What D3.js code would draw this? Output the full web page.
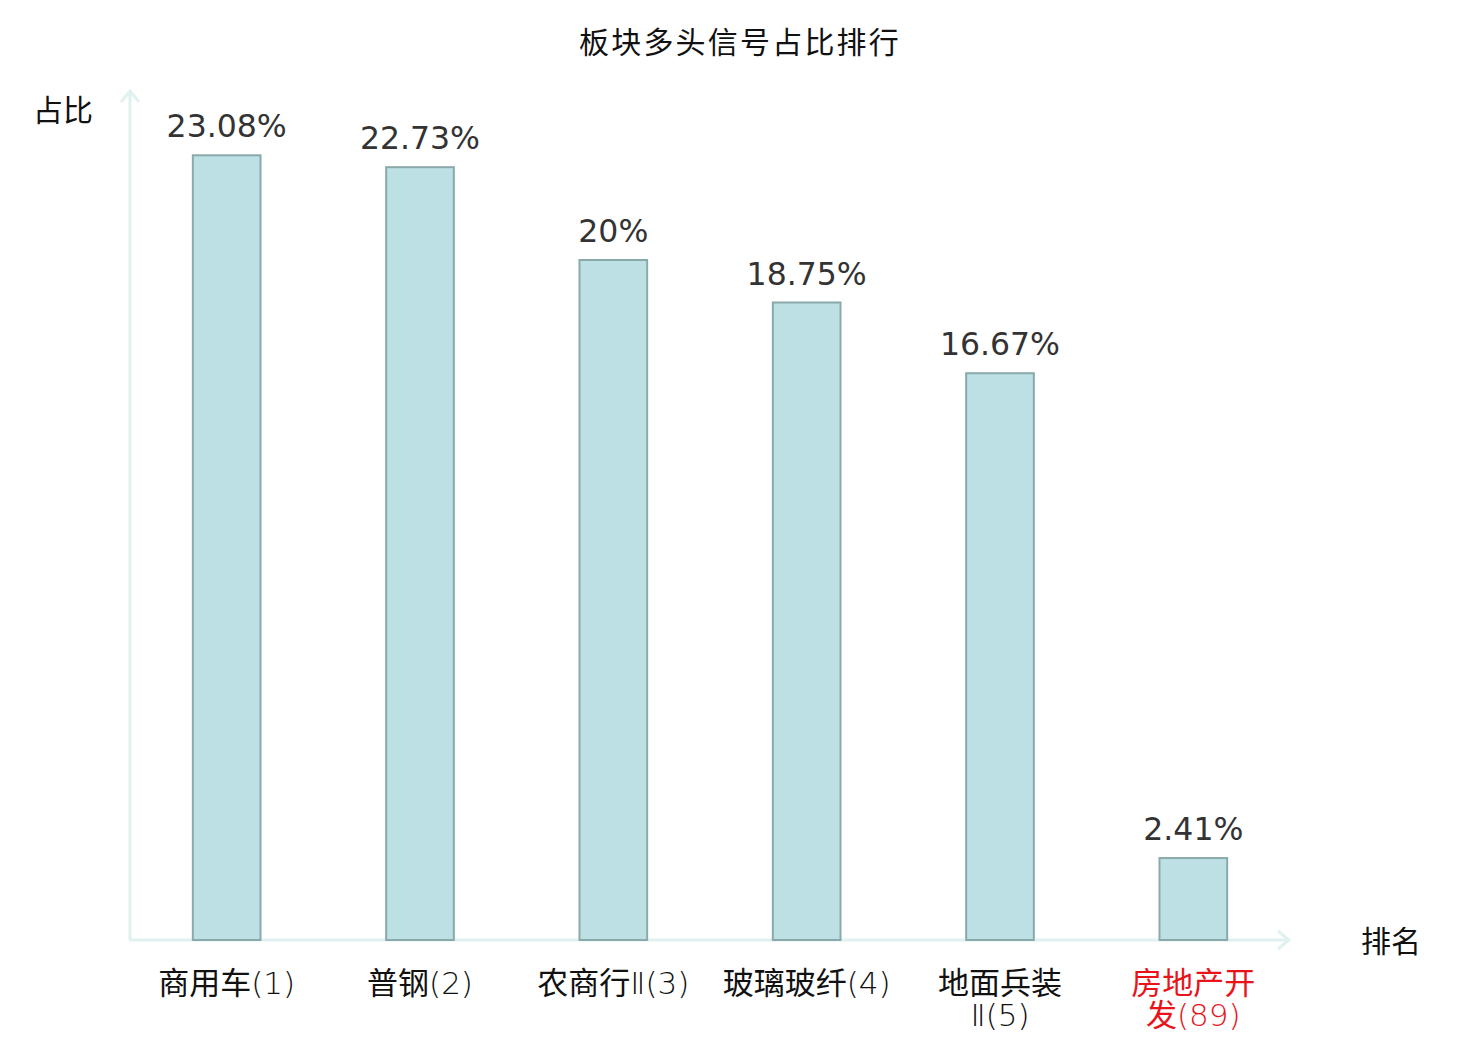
<!DOCTYPE html>
<html>
<head>
<meta charset="utf-8">
<script src="https://cdn.jsdelivr.net/npm/d3@7"></script>
<style>
	body { margin: 0; background: #fff; }
	text { font-family: "DejaVu Sans", "Noto Sans CJK SC", sans-serif; }
</style>
</head>
<body>
<div id="chart"></div>
<script>
var categories = ["商用车(1)", "普钢(2)", "农商行Ⅱ(3)", "玻璃玻纤(4)", "地面兵装Ⅱ(5)", "房地产开发(89)"];
var tickLines = [["商用车(1)"], ["普钢(2)"], ["农商行Ⅱ(3)"], ["玻璃玻纤(4)"], ["地面兵装", "Ⅱ(5)"], ["房地产开", "发(89)"]];
var values = [23.08, 22.73, 20, 18.75, 16.67, 2.41];
var labels = ["23.08%", "22.73%", "20%", "18.75%", "16.67%", "2.41%"];
var highlight = [false, false, false, false, false, true];

var width = 1480, height = 1040;
var x0 = 130, x1 = 1290, yBase = 940, yTop = 90;
var axisColor = "#dff2ef";

var svg = d3.select("#chart").append("svg")
	.attr("width", width)
	.attr("height", height);

var x = d3.scaleBand()
	.domain(categories)
	.range([x0, x1])
	.paddingInner(0.65)
	.paddingOuter(0.325);

var y = d3.scaleLinear()
	.domain([0, 25])
	.range([yBase, yTop]);

// title
svg.append("text")
	.attr("x", 740)
	.attr("y", 53)
	.attr("text-anchor", "middle")
	.style("font-family", "'Noto Sans CJK SC', sans-serif")
	.style("font-size", "30px")
	.style("letter-spacing", "2.2px")
	.style("fill", "#111")
	.text("板块多头信号占比排行");

// axes
svg.append("line")
	.attr("x1", x0).attr("y1", yBase)
	.attr("x2", x0).attr("y2", yTop + 2)
	.style("stroke", axisColor).style("stroke-width", 3);
svg.append("path")
	.attr("d", "M" + (x0 - 9) + "," + (yTop + 12) + "L" + x0 + "," + (yTop + 1) + "L" + (x0 + 9) + "," + (yTop + 12))
	.style("fill", "none").style("stroke", axisColor).style("stroke-width", 3);

svg.append("line")
	.attr("x1", x0 - 1).attr("y1", yBase)
	.attr("x2", x1 - 2).attr("y2", yBase)
	.style("stroke", axisColor).style("stroke-width", 3);
svg.append("path")
	.attr("d", "M" + (x1 - 12) + "," + (yBase - 9) + "L" + (x1 - 1) + "," + yBase + "L" + (x1 - 12) + "," + (yBase + 9))
	.style("fill", "none").style("stroke", axisColor).style("stroke-width", 3);

// axis names
svg.append("text")
	.attr("x", 63).attr("y", 121)
	.attr("text-anchor", "middle")
	.style("font-family", "'Noto Sans CJK SC', sans-serif")
	.style("font-size", "30px").style("fill", "#111")
	.text("占比");
svg.append("text")
	.attr("x", 1391).attr("y", 952)
	.attr("text-anchor", "middle")
	.style("font-family", "'Noto Sans CJK SC', sans-serif")
	.style("font-size", "30px").style("fill", "#111")
	.text("排名");

// bars
svg.selectAll(".bar")
	.data(values)
	.enter()
	.append("rect")
	.attr("class", "bar")
	.attr("x", function(d, i) { return x(categories[i]); })
	.attr("y", function(d) { return y(d); })
	.attr("width", x.bandwidth())
	.attr("height", function(d) { return yBase - y(d); })
	.style("fill", "#bce0e3")
	.style("stroke", "#8aa9aa")
	.style("stroke-width", 2);

// value labels
svg.selectAll(".val")
	.data(values)
	.enter()
	.append("text")
	.attr("class", "val")
	.attr("x", function(d, i) { return x(categories[i]) + x.bandwidth() / 2; })
	.attr("y", function(d) { return y(d) - 18; })
	.attr("text-anchor", "middle")
	.style("font-size", "31.5px")
	.style("fill", "#333")
	.text(function(d, i) { return labels[i]; });

// category labels: one text per line, CJK runs regular, latin runs thin
var lineData = [];
categories.forEach(function(c, i) {
	tickLines[i].forEach(function(t, j) {
		lineData.push({ c: c, i: i, j: j, t: t });
	});
});

var lines = svg.selectAll(".tick")
	.data(lineData)
	.enter()
	.append("text")
	.attr("class", "tick")
	.attr("x", function(d) { return x(d.c) + x.bandwidth() / 2; })
	.attr("y", function(d) { return 994 + d.j * 32; })
	.attr("text-anchor", "middle")
	.style("font-size", "31px")
	.style("fill", function(d) { return highlight[d.i] ? "#e8141a" : "#111"; });

lines.selectAll("tspan")
	.data(function(d) { return d.t.split(/([\u4e00-\u9fff]+)/).filter(function(s) { return s.length; }); })
	.enter()
	.append("tspan")
	.style("font-family", function(s) { return /[\u4e00-\u9fff]/.test(s) ? "'Noto Sans CJK SC', sans-serif" : "'DejaVu Sans', sans-serif"; })
	.style("font-weight", function(s) { return /[\u4e00-\u9fff]/.test(s) ? 400 : 200; })
	.text(function(s) { return s; });
</script>
</body>
</html>
